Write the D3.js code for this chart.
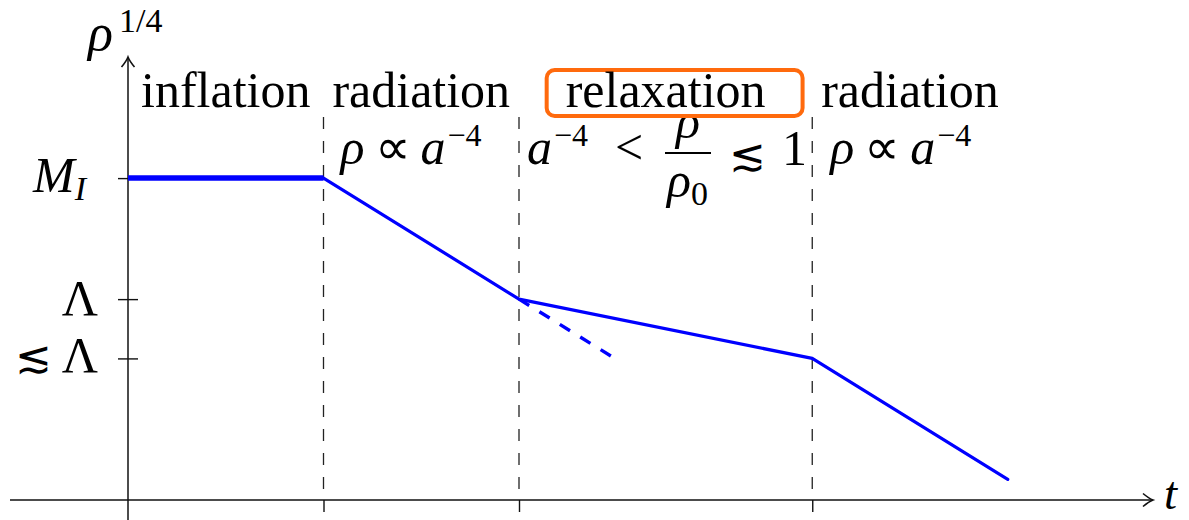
<!DOCTYPE html>
<html>
<head>
<meta charset="utf-8">
<script src="https://cdn.jsdelivr.net/npm/d3@7"></script>
<style>
  body { margin: 0; background: #fff; }
  svg { display: block; }
  text { font-family: "Liberation Serif", "Times New Roman", serif; fill: #000; }
  .math { font-style: italic; }
</style>
</head>
<body>
<svg id="chart" width="1189" height="520"></svg>
<script>
// Cosmological epochs, on a (logarithmic) time axis
const phaseNames = ["inflation", "radiation", "relaxation", "radiation"];
const phaseStart = [0, 1, 2, 3.5];
const phaseEnd = [1, 2, 3.5, 4.5];
const boundaryTimes = [1, 2, 3.5];

// Knots of the energy-scale curve rho^{1/4} (log units)
const curveT = [0, 1, 2, 3.5, 4.5];
const curveRho = [2.66, 2.66, 1.66, 1.17, 0.17];

// Naive radiation scaling continued past the start of relaxation
const extrapT = [2, 2.47];
const extrapRho = [1.66, 1.19];

// Marked energy scales on the vertical axis
const yTickValues = [2.66, 1.66, 1.17];

const svg = d3.select("#chart");

const x = d3.scaleLinear().domain([0, 4.5]).range([128, 1007.75]);
const y = d3.scaleLinear().domain([0, 2.66]).range([500, 178.1]);

const ink = "#111";
const blue = "#0000ff";
const orange = "#ff6a0d";

// ---- phase boundaries (dashed) ----
svg.append("g").selectAll("line")
  .data(boundaryTimes)
  .join("line")
  .attr("x1", d => x(d)).attr("x2", d => x(d))
  .attr("y1", 117).attr("y2", y(0))
  .attr("stroke", "#222").attr("stroke-width", 1.3)
  .attr("stroke-dasharray", "12,12");

// ---- x axis: line, ticks below at boundaries, arrow ----
const xAxis = d3.axisBottom(x).tickValues(boundaryTimes).tickSize(12).tickFormat("");
const gx = svg.append("g").attr("transform", `translate(0,${y(0)})`).call(xAxis);
gx.select(".domain").remove();
gx.selectAll(".tick line").attr("stroke", ink).attr("stroke-width", 1.4);

svg.append("line")
  .attr("x1", 10).attr("x2", 1152)
  .attr("y1", y(0)).attr("y2", y(0))
  .attr("stroke", ink).attr("stroke-width", 1.5);

// ---- y axis ----
svg.append("line")
  .attr("x1", x(0)).attr("x2", x(0))
  .attr("y1", 520).attr("y2", 58)
  .attr("stroke", ink).attr("stroke-width", 1.5);

const yAxis = d3.axisLeft(y).tickValues(yTickValues).tickSize(20).tickFormat("");
const gy = svg.append("g").attr("transform", `translate(${x(0) + 10},0)`).call(yAxis);
gy.select(".domain").remove();
gy.selectAll(".tick line").attr("stroke", ink).attr("stroke-width", 1.4);

// arrow heads
const arrowPath = "M -10,-6.5 Q -4,-1.5 0,0 Q -4,1.5 -10,6.5";
svg.append("path").attr("d", arrowPath)
  .attr("transform", `translate(1153,${y(0)})`)
  .attr("fill", "none").attr("stroke", ink).attr("stroke-width", 1.6);
svg.append("path").attr("d", arrowPath)
  .attr("transform", `translate(${x(0)},57) rotate(-90)`)
  .attr("fill", "none").attr("stroke", ink).attr("stroke-width", 1.6);

// ---- curve ----
const pts = curveT.map((t, i) => [t, curveRho[i]]);
const line = d3.line().x(d => x(d[0])).y(d => y(d[1]));

// inflation plateau drawn heavier
svg.append("path")
  .attr("d", line(pts.slice(0, 2)))
  .attr("fill", "none").attr("stroke", blue).attr("stroke-width", 5.5);
svg.append("path")
  .attr("d", line(pts.slice(1)))
  .attr("fill", "none").attr("stroke", blue).attr("stroke-width", 3.2)
  .attr("stroke-linejoin", "round").attr("stroke-linecap", "round");

// extrapolated radiation scaling
svg.append("path")
  .attr("d", line(extrapT.map((t, i) => [t, extrapRho[i]])))
  .attr("fill", "none").attr("stroke", blue).attr("stroke-width", 3.4)
  .attr("stroke-dasharray", "12,12");

// ---- axis labels ----
const yLab = svg.append("text").attr("x", 88).attr("y", 50).attr("font-size", 52);
yLab.append("tspan").attr("class", "math").text("ρ");
yLab.append("tspan").attr("dy", -18).attr("dx", 6).attr("font-size", 34).text("1/4");

svg.append("text").attr("class", "math")
  .attr("x", 1164).attr("y", 509).attr("font-size", 47).text("t");

// y tick labels
const mLab = svg.append("text").attr("x", 33).attr("y", 192).attr("font-size", 50);
mLab.append("tspan").attr("class", "math").text("M");
mLab.append("tspan").attr("class", "math").attr("dy", 8).attr("font-size", 34).text("I");

svg.append("text").attr("x", 98).attr("y", 315).attr("font-size", 50)
  .attr("text-anchor", "end").text("Λ");
const lLab = svg.append("text").attr("x", 98).attr("y", 372).attr("font-size", 50)
  .attr("text-anchor", "end");
lLab.append("tspan").attr("font-family", "DejaVu Serif").attr("font-size", 44).text("≲");
lLab.append("tspan").attr("dx", 10).text("Λ");

// ---- scaling laws under each epoch ----
function rhoPropA(x0, base) {
  const t = svg.append("text").attr("x", x0).attr("y", base).attr("font-size", 50);
  t.append("tspan").attr("class", "math").text("ρ");
  t.append("tspan").attr("dx", 10).text("∝");
  t.append("tspan").attr("class", "math").attr("dx", 10).text("a");
  t.append("tspan").attr("dy", -18).attr("dx", 2).attr("font-size", 32).text("−4");
}
rhoPropA(x(1) + 17, 164);
rhoPropA(x(3.5) + 18, 164);

// relaxation bound: a^{-4} < rho/rho_0 <~ 1
const rx = x(2) + 8;
const r1 = svg.append("text").attr("x", rx).attr("y", 164).attr("font-size", 50);
r1.append("tspan").attr("class", "math").text("a");
r1.append("tspan").attr("dy", -18).attr("dx", 2).attr("font-size", 32).text("−4");
svg.append("text").attr("x", rx + 88).attr("y", 164).attr("font-size", 50).text("<");

const fracC = rx + 161;
svg.append("text").attr("class", "math").attr("x", fracC).attr("y", 138)
  .attr("font-size", 50).attr("text-anchor", "middle").text("ρ");
svg.append("line")
  .attr("x1", fracC - 23).attr("x2", fracC + 23)
  .attr("y1", 153).attr("y2", 153)
  .attr("stroke", "#000").attr("stroke-width", 2);
const den = svg.append("text").attr("x", fracC - 21).attr("y", 197).attr("font-size", 50);
den.append("tspan").attr("class", "math").text("ρ");
den.append("tspan").attr("dy", 8).attr("font-size", 34).text("0");

svg.append("text").attr("x", rx + 202).attr("y", 170)
  .attr("font-family", "DejaVu Serif").attr("font-size", 44).text("≲");
svg.append("text").attr("x", rx + 255).attr("y", 165).attr("font-size", 50).text("1");

// ---- epoch names ----
const nameGroup = svg.append("g");
const names = nameGroup.selectAll("text")
  .data(phaseNames)
  .join("text")
  .attr("x", (d, i) => x((phaseStart[i] + phaseEnd[i]) / 2))
  .attr("y", 107)
  .attr("font-size", 50)
  .attr("text-anchor", "middle")
  .text(d => d);

// highlight frame around the relaxation epoch (white fill masks what lies beneath)
const relaxNode = names.filter(d => d === "relaxation").node();
const bb = relaxNode.getBBox();
nameGroup.insert("rect", ":first-child")
  .attr("x", bb.x - 19).attr("y", 70)
  .attr("width", bb.width + 19 + 37).attr("height", 46)
  .attr("rx", 8).attr("ry", 8)
  .attr("fill", "#fff").attr("stroke", orange).attr("stroke-width", 4);
</script>
</body>
</html>
